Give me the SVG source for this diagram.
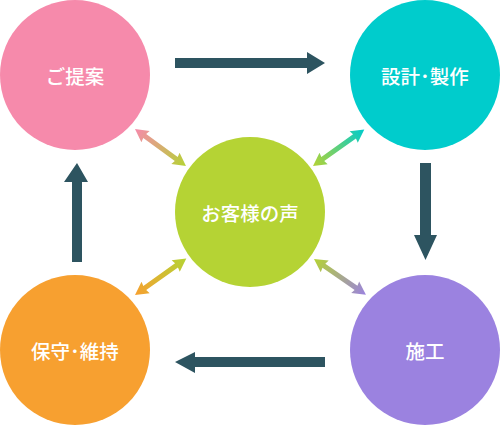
<svg xmlns="http://www.w3.org/2000/svg" width="500" height="425" viewBox="0 0 500 425">
<defs>
<style>
.lbl{font-family:"Noto Sans CJK JP","Noto Sans",sans-serif;font-size:19.5px;font-weight:500;fill:#fff;text-anchor:middle;dominant-baseline:central}
.big{fill:#2d5460}
</style>
<linearGradient id="g1" gradientUnits="userSpaceOnUse" x1="0" y1="0" x2="63" y2="0"><stop offset="0" stop-color="#f68aab"/><stop offset="1" stop-color="#b5d334"/></linearGradient>
<linearGradient id="g2" gradientUnits="userSpaceOnUse" x1="0" y1="0" x2="63" y2="0"><stop offset="0" stop-color="#b5d334"/><stop offset="1" stop-color="#00cccc"/></linearGradient>
<linearGradient id="g3" gradientUnits="userSpaceOnUse" x1="0" y1="0" x2="63" y2="0"><stop offset="0" stop-color="#f7a030"/><stop offset="1" stop-color="#b5d334"/></linearGradient>
<linearGradient id="g4" gradientUnits="userSpaceOnUse" x1="0" y1="0" x2="63" y2="0"><stop offset="0" stop-color="#b5d334"/><stop offset="1" stop-color="#9b82e0"/></linearGradient>
<polygon id="dbl" points="0,0 13,-7 12,-2.5 51,-2.5 50,-7 63,0 50,7 51,2.5 12,2.5 13,7"/>
</defs>
<g id="connectors">
<polygon class="big" points="175,58 307,58 307,52 325,63 307,74 307,68 175,68"/>
<polygon class="big" points="420,163 431,163 431,235 437,235 425.5,260 414,235 420,235"/>
<polygon class="big" points="325,357 195,357 195,352 175,362 195,373 195,367 325,367"/>
<polygon class="big" points="72,262 72,182 64,182 77,163 88,182 82,182 82,262"/>
<use href="#dbl" fill="url(#g1)" transform="translate(135,129) rotate(36)"/>
<use href="#dbl" fill="url(#g2)" transform="translate(313,166) rotate(-35.5)"/>
<use href="#dbl" fill="url(#g3)" transform="translate(135,295) rotate(-35.5)"/>
<use href="#dbl" fill="url(#g4)" transform="translate(314,259) rotate(34.5)"/>
</g>
<g id="node-proposal"><circle cx="75" cy="75" r="75" fill="#f68aab"/><text class="lbl" x="75" y="75">ご提案</text></g>
<g id="node-design"><circle cx="425" cy="75" r="75" fill="#00cccc"/><text class="lbl" x="425" y="75">設計･製作</text></g>
<g id="node-voice"><circle cx="250" cy="212" r="75" fill="#b5d334"/><text class="lbl" x="250" y="212">お客様の声</text></g>
<g id="node-construction"><circle cx="425" cy="350" r="75" fill="#9b82e0"/><text class="lbl" x="425" y="350">施工</text></g>
<g id="node-maintenance"><circle cx="75" cy="350" r="75" fill="#f7a030"/><text class="lbl" x="75" y="350">保守･維持</text></g>
</svg>
